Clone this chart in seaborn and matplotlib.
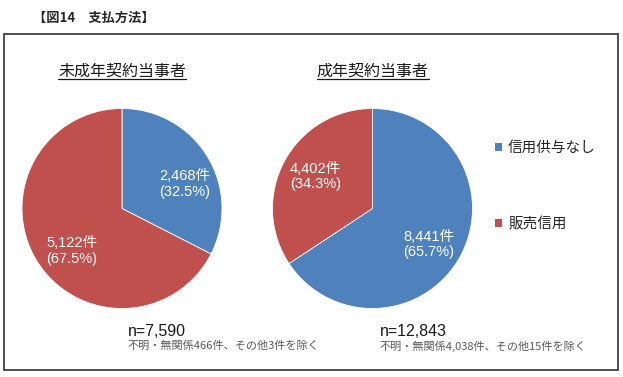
import matplotlib
matplotlib.use("Agg")
import matplotlib.pyplot as plt
from matplotlib.patches import Rectangle
from matplotlib.lines import Line2D
import seaborn as sns

# ---------------- data ----------------
categories = ["信用供与なし", "販売信用"]
group_titles = ["未成年契約当事者", "成年契約当事者"]
minor_counts = [2468, 5122]
adult_counts = [8441, 4402]
minor_pct = [32.5, 67.5]
adult_pct = [65.7, 34.3]
n_labels = ["n=7,590", "n=12,843"]
notes = ["不明・無関係466件、その他3件を除く", "不明・無関係4,038件、その他15件を除く"]
chart_title = "【図14　支払方法】"

# ---------------- style ----------------
sns.set_theme(style="white")
plt.rcParams['font.family'] = ['Liberation Sans', 'Noto Sans CJK JP', 'DejaVu Sans']
palette = sns.color_palette(["#4F81BD", "#C0504D"])

W, H = 623, 377
fig = plt.figure(figsize=(W / 100, H / 100), dpi=100)
fig.patch.set_facecolor("white")


def px(x, y):
    return x / W, 1 - y / H


# frame
fig.patches.append(Rectangle(px(4, 370), 614 / W, 336 / H, transform=fig.transFigure,
                             fill=False, edgecolor="#404040", linewidth=1.3))

fig.text(*px(33, 18), chart_title, ha="left", va="center", fontsize=9.5,
         fontweight="bold", family=['Noto Sans CJK JP'])

pie_centers = [(122, 208.5), (372.5, 208.5)]
radius_px = 100
counts_all = [minor_counts, adult_counts]
pct_all = [minor_pct, adult_pct]
# label positions in pie units (style only)
label_pos = [[(0.63, 0.245), (-0.50, -0.425)], [(0.56, -0.36), (-0.57, 0.32)]]

wedges_for_legend = None
sub_texts = []
for i, (cx, cy) in enumerate(pie_centers):
    ax = fig.add_axes([(cx - radius_px) / W, 1 - (cy + radius_px) / H,
                       2 * radius_px / W, 2 * radius_px / H])
    labels = [f"{c:,}件\n({p:.1f}%)" for c, p in zip(counts_all[i], pct_all[i])]
    wedges, texts = ax.pie(counts_all[i], colors=palette, startangle=90,
                           counterclock=False, labels=labels, labeldistance=0.6,
                           wedgeprops=dict(edgecolor="white", linewidth=0.6),
                           textprops=dict(color="white", fontsize=10.5, ha="center",
                                          va="center", linespacing=1.15,
                                          family=['Liberation Sans', 'Noto Sans CJK JP']))
    for t, pos in zip(texts, label_pos[i]):
        t.set_position(pos)
        t.set_ha("center")
        t.set_va("center")
    ax.set_xlim(-1, 1)
    ax.set_ylim(-1, 1)
    ax.set_axis_off()
    wedges_for_legend = wedges

    st = fig.text(*px(cx, 71), group_titles[i], ha="center", va="center", fontsize=11.5,
                  color="#1a1a1a", family=['Noto Sans CJK JP'])
    sub_texts.append(st)

# n and notes
n_x = [128, 380]
for i in range(2):
    fig.text(*px(n_x[i], 332), n_labels[i], ha="left", va="center", fontsize=11.5,
             color="#1a1a1a", family=['Liberation Sans'])
    fig.text(*px(n_x[i], 346), notes[i], ha="left", va="center", fontsize=8,
             color="#595959", family=['Noto Sans CJK JP'])

# legend
leg = fig.legend(wedges_for_legend, categories, loc="upper left",
                 bbox_to_anchor=px(495, 141), frameon=False, fontsize=10.5,
                 handlelength=0.45, handleheight=0.45, handletextpad=0.45,
                 labelspacing=4.25, borderpad=0, borderaxespad=0,
                 prop=dict(family=['Noto Sans CJK JP'], size=10.5))
for h in leg.legend_handles:
    h.set_edgecolor("none")

# underline subtitles
fig.canvas.draw()
renderer = fig.canvas.get_renderer()
for st in sub_texts:
    bb = st.get_window_extent(renderer)
    y = bb.y0 + 1
    fig.lines.append(Line2D([bb.x0 / W, bb.x1 / W], [y / H, y / H],
                            transform=fig.transFigure, color="#1a1a1a", linewidth=0.9))

fig.savefig("out.png", dpi=100, facecolor="white")
